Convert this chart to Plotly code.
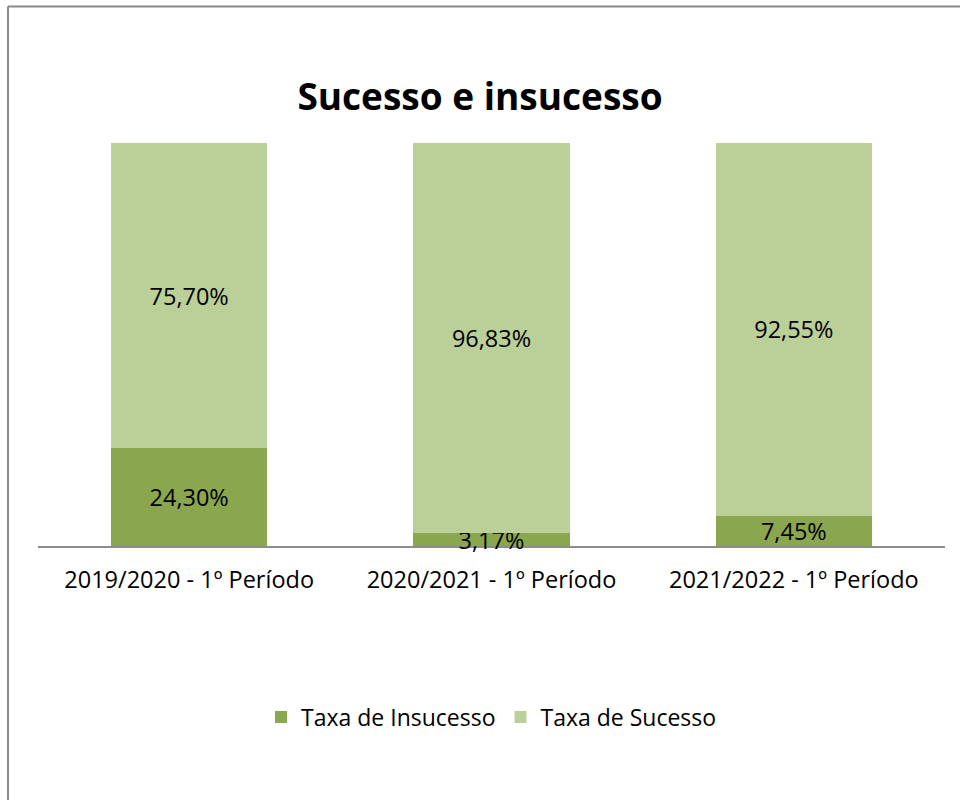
import plotly.graph_objects as go

categories = ["2019/2020 - 1º Período", "2020/2021 - 1º Período", "2021/2022 - 1º Período"]
insucesso = [24.30, 3.17, 7.45]
sucesso = [75.70, 96.83, 92.55]
series_names = ["Taxa de Insucesso", "Taxa de Sucesso"]

FONT = "Open Sans"
fmt = lambda v: f"{v:.2f}".replace(".", ",") + "%"

fig = go.Figure()
fig.add_trace(go.Bar(x=categories, y=insucesso, name=series_names[0],
                     marker=dict(color="#8aa64e", line=dict(width=0)),
                     text=[fmt(v) for v in insucesso], textposition="inside",
                     insidetextanchor="middle", textangle=0, cliponaxis=False,
                     textfont=dict(family=FONT, size=23.5, color="#000000")))
fig.add_trace(go.Bar(x=categories, y=sucesso, name=series_names[1],
                     marker=dict(color="#bbcf98", line=dict(width=0)),
                     text=[fmt(v) for v in sucesso], textposition="inside",
                     insidetextanchor="middle", textangle=0, cliponaxis=False,
                     textfont=dict(family=FONT, size=23.5, color="#000000")))

L, R, T, B = 38, 945, 143, 546
H = B - T
W = R - L

def px(x):
    return (x - L) / W

def py(y):
    return (B - y) / H

fig.update_layout(
    barmode="stack",
    bargap=0.483,
    width=960, height=800,
    margin=dict(l=L, r=960 - R, t=T, b=800 - B),
    paper_bgcolor="white", plot_bgcolor="white",
    uniformtext=dict(minsize=23.5, mode="show"),
    title=dict(text="<b>Sucesso e insucesso</b>", x=0.5, xanchor="center",
               y=1 - 97 / 800, yanchor="middle", yref="container",
               font=dict(family=FONT, size=37, color="#000000")),
    xaxis=dict(showline=True, linecolor="#8c8c8c", linewidth=2, ticks="",
               showgrid=False, ticklabelstandoff=12, layer="below traces",
               tickfont=dict(family=FONT, size=23.5, color="#000000")),
    yaxis=dict(range=[0, 100], visible=False, showgrid=False),
    legend=dict(orientation="h", x=0.5, xanchor="center", y=py(717), yanchor="middle",
                traceorder="normal",
                font=dict(family=FONT, size=23, color="#000000"),
                itemwidth=30, tracegroupgap=0),
    showlegend=True,
    shapes=[
        dict(type="line", xref="paper", yref="paper", x0=px(8), x1=px(960), y0=py(6.5), y1=py(6.5),
             line=dict(color="#8a8a8a", width=2)),
        dict(type="line", xref="paper", yref="paper", x0=px(8), x1=px(8), y0=py(6.5), y1=py(800),
             line=dict(color="#8a8a8a", width=2)),
    ],
)

fig.write_html("out.html")
